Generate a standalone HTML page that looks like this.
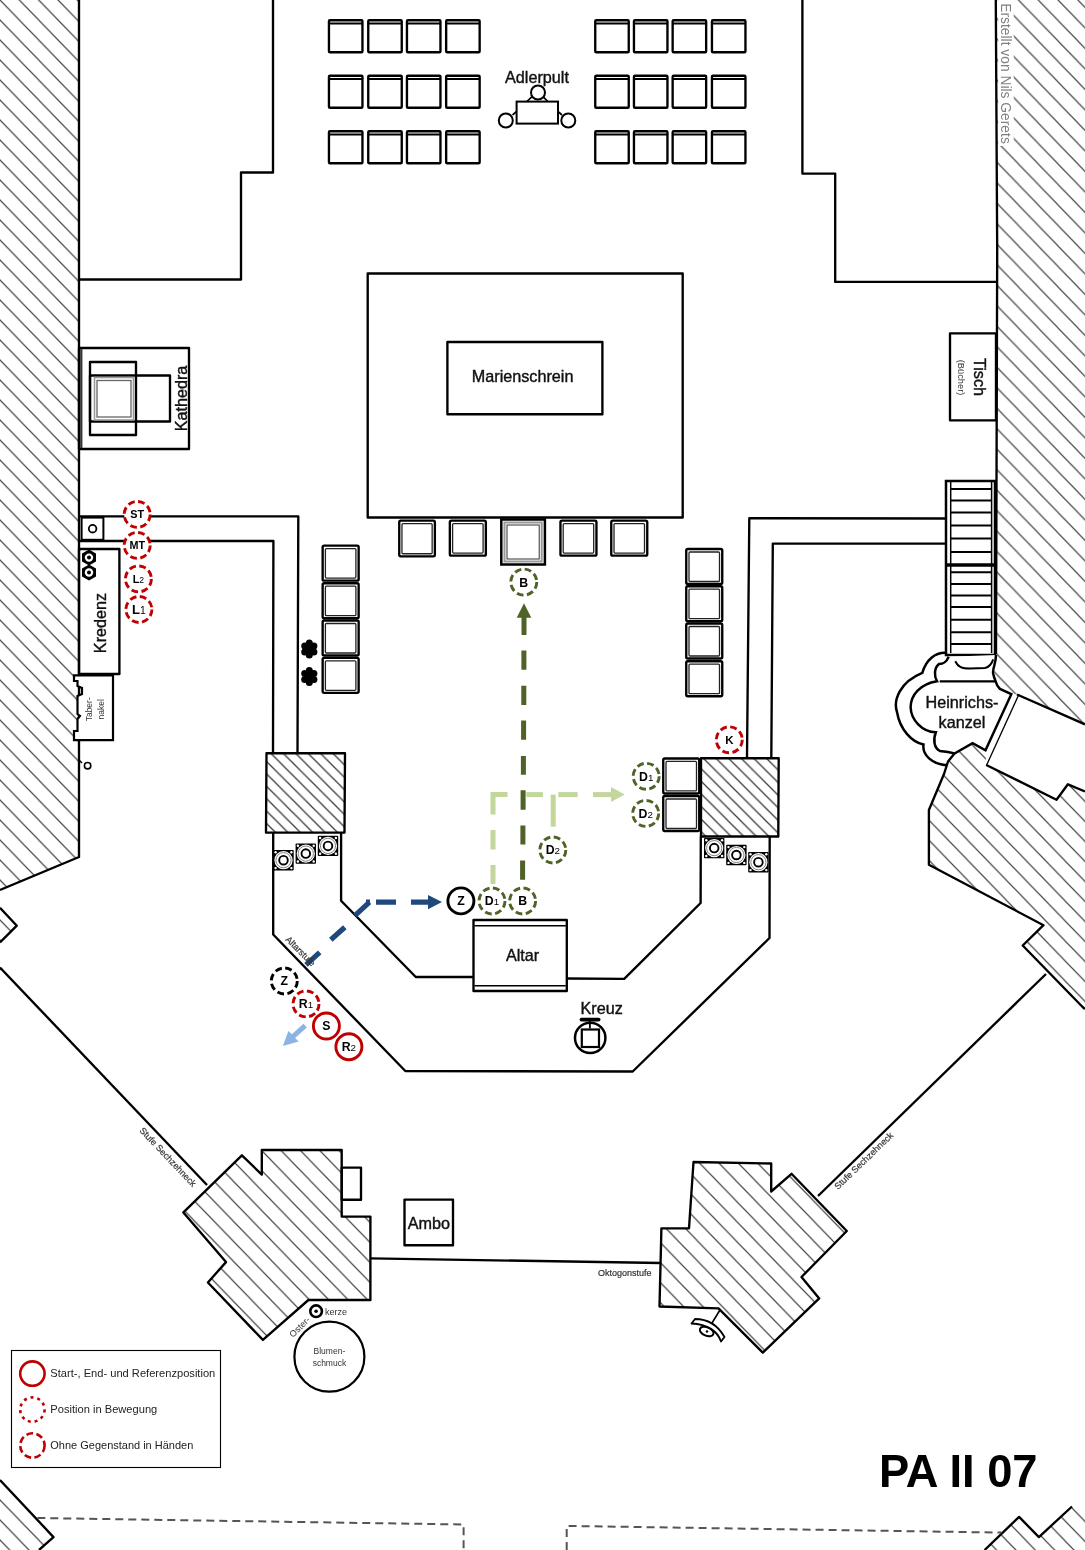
<!DOCTYPE html>
<html><head><meta charset="utf-8"><style>
html,body{margin:0;padding:0;background:#fff;width:1085px;height:1550px;overflow:hidden}
svg{display:block;font-family:"Liberation Sans",sans-serif;will-change:transform}
.w{fill:none;stroke:#000;stroke-width:2.35;stroke-linejoin:round}
.t{fill:none;stroke:#000;stroke-width:1.2}
.h{fill:url(#hatch);stroke:none}
</style></head><body>
<svg width="1085" height="1550" viewBox="0 0 1085 1550">
<defs>
<pattern id="hatch" patternUnits="userSpaceOnUse" width="19.35" height="20">
<path d="M-1.935,-2 L21.285,22 M-1.935,18 L1.935,22 M17.415,-2 L21.285,2" stroke="#4e4e4e" stroke-width="1.25"/>
</pattern>
<pattern id="hatchR" patternUnits="userSpaceOnUse" x="8.7" width="19.8" height="20.5">
<path d="M-1.98,-2.05 L21.78,22.55 M-1.98,18.45 L1.98,22.55 M17.82,-2.05 L21.78,2.05" stroke="#4e4e4e" stroke-width="1.25"/>
</pattern>
<pattern id="hatchS1" patternUnits="userSpaceOnUse" x="1.1" width="12.4" height="12.4">
<path d="M-2,-2 L14.4,14.4 M-2,10.4 L2,14.4 M10.4,-2 L14.4,2" stroke="#3a3a3a" stroke-width="1.3"/>
</pattern>
<pattern id="hatchS2" patternUnits="userSpaceOnUse" x="8.1" width="12.6" height="12.6">
<path d="M-2,-2 L14.6,14.6 M-2,10.6 L2,14.6 M10.6,-2 L14.6,2" stroke="#3a3a3a" stroke-width="1.3"/>
</pattern>
<g id="chT">
<rect x="1.25" y="1.25" width="33.5" height="32" class="w" rx="1"/>
<line x1="1.25" y1="4.5" x2="34.75" y2="4.5" stroke="#000" stroke-width="2.2"/>
</g>
<g id="chC">
<rect x="1.25" y="1.25" width="36" height="35" class="w" rx="1.5"/>
<rect x="4" y="4.2" width="30.5" height="29.5" fill="none" stroke="#222" stroke-width="1.3" rx="1"/>
</g>
<g id="spk">
<rect x="-10.2" y="-10.2" width="20.4" height="20.4" fill="#000" rx="0.8"/>
<circle r="9.1" fill="#fff"/>
<circle r="7.6" fill="none" stroke="#777" stroke-width="0.9"/>
<circle r="4.3" fill="none" stroke="#000" stroke-width="1.9"/>
<circle cx="-7.9" cy="-7.9" r="1.2" fill="#fff"/><circle cx="7.9" cy="-7.9" r="1.2" fill="#fff"/><circle cx="-7.9" cy="7.9" r="1.2" fill="#fff"/><circle cx="7.9" cy="7.9" r="1.2" fill="#fff"/>
</g>
</defs>

<!-- LEFT WALL -->
<polygon class="h" points="0,0 79,0 79,857 0,890"/>
<polyline class="w" points="79,0 79,857 0,890"/>
<polygon class="h" points="0,907.7 16.8,925.7 0,942.5"/>
<polyline class="w" points="0,907.7 16.8,925.7 0,942.5"/>

<!-- RIGHT WALL -->
<polygon fill="url(#hatchR)" points="996,0 1085,0 1085,724 1017,694.5 1010,693 1001,687.5 994,673 996,654"/>
<polyline class="w" points="995.8,0 997.2,250 996.5,481 996,654"/>
<line class="w" x1="1017" y1="694.5" x2="1085" y2="724.4"/>

<!-- TOP STRUCTURE LINES -->
<polyline class="w" points="273,0 273,172.5 241,172.5 241,279.5 79,279.5"/>
<polyline class="w" points="802.4,0 802.4,173.6 835.2,173.6 835.2,281.9 996,281.9"/>

<!-- TOP CHAIRS -->
<use href="#chT" x="327.7" y="19"/><use href="#chT" x="367" y="19"/><use href="#chT" x="405.7" y="19"/><use href="#chT" x="444.9" y="19"/>
<use href="#chT" x="594" y="19"/><use href="#chT" x="632.7" y="19"/><use href="#chT" x="671.4" y="19"/><use href="#chT" x="710.7" y="19"/>
<use href="#chT" x="327.7" y="74.5"/><use href="#chT" x="367" y="74.5"/><use href="#chT" x="405.7" y="74.5"/><use href="#chT" x="444.9" y="74.5"/>
<use href="#chT" x="594" y="74.5"/><use href="#chT" x="632.7" y="74.5"/><use href="#chT" x="671.4" y="74.5"/><use href="#chT" x="710.7" y="74.5"/>
<use href="#chT" x="327.7" y="130"/><use href="#chT" x="367" y="130"/><use href="#chT" x="405.7" y="130"/><use href="#chT" x="444.9" y="130"/>
<use href="#chT" x="594" y="130"/><use href="#chT" x="632.7" y="130"/><use href="#chT" x="671.4" y="130"/><use href="#chT" x="710.7" y="130"/>

<!-- ADLERPULT -->
<text x="537" y="83" font-size="16.2" text-anchor="middle" fill="#111" stroke="#111" stroke-width="0.4">Adlerpult</text>
<circle cx="538" cy="92.5" r="7" fill="#fff" stroke="#000" stroke-width="2"/>
<path d="M526.3,102 L531.8,96.8 M548.3,102 L543.2,96.8 M516.6,111.5 L512.5,115 M558,111.5 L562,115" stroke="#000" stroke-width="1.7"/>
<rect x="516.6" y="101.6" width="41.4" height="22" fill="#fff" stroke="#000" stroke-width="2"/>
<circle cx="505.8" cy="120.5" r="7" fill="#fff" stroke="#000" stroke-width="2"/>
<circle cx="568.3" cy="120.5" r="7" fill="#fff" stroke="#000" stroke-width="2"/>

<!-- MARIENSCHREIN -->
<rect x="367.7" y="273.5" width="315" height="244" class="w"/>
<rect x="447.4" y="342" width="155" height="72.2" class="w"/>
<text x="522.6" y="381.5" font-size="16.2" text-anchor="middle" fill="#111" stroke="#111" stroke-width="0.4">Marienschrein</text>

<!-- KATHEDRA -->
<rect x="79" y="348" width="110" height="101" class="w"/>
<line x1="81.3" y1="349" x2="81.3" y2="448" stroke="#333" stroke-width="2.2"/>
<rect x="90" y="362" width="46" height="73" class="w"/>
<rect x="90" y="375.5" width="80" height="46" class="w"/>
<rect x="94.5" y="377.5" width="39" height="42.5" fill="#fff" stroke="#999" stroke-width="1.6"/>
<rect x="97" y="380.5" width="34" height="36.5" fill="none" stroke="#666" stroke-width="1.3"/>
<text transform="translate(187,398.5) rotate(-90)" font-size="16.2" text-anchor="middle" fill="#111" stroke="#111" stroke-width="0.4">Kathedra</text>

<!-- TISCH -->
<rect x="950" y="333.3" width="46" height="87" class="w"/>
<text transform="translate(973.5,377) rotate(90)" font-size="16.2" text-anchor="middle" fill="#111" stroke="#111" stroke-width="0.4">Tisch</text>
<text transform="translate(958.2,377.5) rotate(90)" font-size="9.3" text-anchor="middle" fill="#333">(Bücher)</text>

<!-- INNER L LINES -->
<polyline class="w" points="79,516.3 298.3,516.3 297.5,753"/>
<polyline class="w" points="79,541 273.4,541 273,753"/>
<polyline class="w" points="946,518.5 749.3,518.2 747,757.5"/>
<polyline class="w" points="946,543.6 772.8,543.6 771.3,758"/>

<!-- STAIRS -->
<rect x="946" y="481" width="49" height="174" fill="#fff" stroke="#000" stroke-width="2.5"/>
<path d="M950.7,482 V653 M991.6,482 V653" stroke="#000" stroke-width="1.5"/>
<path d="M951,489 H991 M951,500.6 H991 M951,512.6 H991 M951,525.4 H991 M951,538.4 H991 M951,552 H991 M951,572.3 H991 M951,583.9 H991 M951,595.5 H991 M951,607 H991 M951,619.7 H991 M951,632.3 H991 M951,644 H991" stroke="#000" stroke-width="2"/>
<path d="M947,565 H994" stroke="#000" stroke-width="3.5"/>

<!-- CHAIR COLUMNS -->
<use href="#chC" x="321.4" y="544.4"/><use href="#chC" x="321.4" y="582"/><use href="#chC" x="321.4" y="619.3"/><use href="#chC" x="321.4" y="656.6"/>
<use href="#chC" x="685" y="547.8"/><use href="#chC" x="685" y="585"/><use href="#chC" x="685" y="622.3"/><use href="#chC" x="685" y="660"/>
<!-- bottom chair row under Marienschrein -->
<g transform="translate(398,519.4) scale(0.99,1)"><use href="#chC" transform="scale(1,1.02)"/></g>
<use href="#chC" x="448.6" y="519.4"/>
<use href="#chC" x="559.2" y="519.4"/>
<use href="#chC" x="610" y="519.4"/>
<rect x="501.3" y="519.5" width="43.6" height="45" fill="#fff" stroke="#000" stroke-width="2.5"/>
<rect x="504.5" y="522.5" width="37.2" height="39" fill="none" stroke="#999" stroke-width="2"/>
<rect x="507" y="525" width="32.2" height="34" fill="none" stroke="#333" stroke-width="1"/>
<!-- right 2 chairs next to block -->
<use href="#chC" x="662" y="757.2"/><use href="#chC" x="662" y="794.8"/>

<!-- FLOWERS -->
<g id="flw" transform="translate(309.3,648.9)">
<circle r="5.5"/><circle r="3.5" cx="0" cy="-6"/><circle r="3.5" cx="4.6" cy="-3"/><circle r="3.5" cx="4.6" cy="3"/><circle r="3.5" cx="0" cy="6"/><circle r="3.5" cx="-4.6" cy="3"/><circle r="3.5" cx="-4.6" cy="-3"/>
</g>
<use href="#flw" y="27.5"/>

<!-- LEFT WALL FURNITURE -->
<rect x="81.6" y="517.6" width="21.8" height="22.2" fill="#fff" stroke="#000" stroke-width="2"/>
<circle cx="92.6" cy="528.7" r="3.8" fill="none" stroke="#000" stroke-width="1.8"/>
<rect x="79" y="549" width="40.4" height="125" class="w"/>
<polygon points="89,549.6 96,553.6 96,561.6 89,565.6 82,561.6 82,553.6" fill="#000"/>
<circle cx="89" cy="557.6" r="4.2" fill="#fff"/><circle cx="89" cy="557.6" r="2" fill="#000"/>
<polygon points="89,564.5 96,568.5 96,576.5 89,580.5 82,576.5 82,568.5" fill="#000"/>
<circle cx="89" cy="572.5" r="4.2" fill="#fff"/><circle cx="89" cy="572.5" r="2" fill="#000"/>
<text transform="translate(106,623) rotate(-90)" font-size="16.2" text-anchor="middle" fill="#111" stroke="#111" stroke-width="0.4">Kredenz</text>
<path d="M74,675.4 H113 V740.2 H74 V731 H77.5 V719 L80,716 L77.5,714 V696 L82,694 V688 L77.5,686 V681 H74 Z" fill="#fff" stroke="#000" stroke-width="2.2"/>
<text transform="translate(89,709.3) rotate(-90)" font-size="8.5" text-anchor="middle" fill="#333"><tspan x="0" y="3">Taber-</tspan><tspan x="0" y="15">nakel</tspan></text>
<circle cx="87.6" cy="765.7" r="3.2" fill="#fff" stroke="#000" stroke-width="1.6"/>
<path d="M79,760 L82,763" stroke="#000" stroke-width="1.4"/>

<!-- HATCHED BLOCKS -->
<polygon fill="url(#hatchS1)" points="266.5,753.2 345,753.2 344.5,832.6 266,832.6"/>
<polygon class="w" points="266.5,753.2 345,753.2 344.5,832.6 266,832.6"/>
<polygon fill="url(#hatchS2)" points="701,758.2 778.7,758.2 778.3,836.5 701,836.5"/>
<polygon class="w" points="701,758.2 778.7,758.2 778.3,836.5 701,836.5"/>

<!-- OCTAGON LINES -->
<polyline class="w" points="273.2,832.6 273.2,934.5 405.3,1071 632.7,1071.5 769.5,938 769.7,836.5"/>
<polyline class="w" points="341.1,832.6 341.1,900.8 415.8,977 473.5,977"/>
<polyline class="w" points="566.8,978.5 624.2,978.8 700.6,903 700.8,836.5"/>

<!-- SPEAKERS -->
<use href="#spk" x="283.5" y="860.2"/><use href="#spk" x="305.8" y="853.6"/><use href="#spk" x="328" y="845.9"/>
<use href="#spk" x="714.2" y="848.1"/><use href="#spk" x="736.4" y="855"/><use href="#spk" x="758.4" y="862.2"/>

<!-- ALTAR -->
<rect x="473.5" y="920" width="93.3" height="71" class="w" fill="#fff"/>
<path d="M474.5,925.8 H565.8 M474.5,985.8 H565.8" stroke="#000" stroke-width="1.6"/>
<text x="522.6" y="961" font-size="16.2" text-anchor="middle" fill="#111" stroke="#111" stroke-width="0.4">Altar</text>

<!-- KREUZ -->
<text x="601.6" y="1014.4" font-size="16.2" text-anchor="middle" fill="#111" stroke="#111" stroke-width="0.4">Kreuz</text>
<path d="M581.5,1019.6 H598.6" stroke="#000" stroke-width="3.8" stroke-linecap="round"/>
<path d="M589.9,1020 V1028.5" stroke="#000" stroke-width="1.8"/>
<circle cx="590.2" cy="1037.9" r="15.2" fill="none" stroke="#000" stroke-width="2.5"/>
<rect x="581.8" y="1029.5" width="17.2" height="17.5" fill="none" stroke="#000" stroke-width="2.2"/>

<!-- RIGHT BIG PILLAR (east) -->
<polygon class="h" points="948,761.5 954.5,753.5 972.6,743.2 985.5,750.3 986.3,765 1056.5,799.7 1067.9,784.3 1085,791.5 1085,1009 1082.6,1007 1022.7,945.5 1043.5,925.2 928.9,864.8 928.9,810 944,774"/>
<polyline class="w" points="1085,1009 1082.6,1007 1022.7,945.5 1043.5,925.2 928.9,864.8 928.9,810 944,774 948,761.5 954.5,753.5"/>
<polyline class="w" points="986.3,765 1056.5,799.7 1067.9,784.3 1085,791.5"/>
<!-- room box -->
<line x1="1019" y1="694.2" x2="986.3" y2="765.8" stroke="#000" stroke-width="1.3"/>
<!-- KANZEL -->
<path d="M946.8,652.9 C935,652 926,660 922.3,672.9 C900,682 893,700 897,712 C900,730 912,742 923.5,744.5 C922,755 932,764 946.8,765.2" fill="none" stroke="#000" stroke-width="2.5"/>
<path d="M948.7,656.8 C946,663 943,664 939,664 C934,668 934,676 937,681.3 C920,684 911,695 910.6,707 C911,720 922,732 935.8,732.3 C933,740 934,748 940,751 L948,752 L954.5,753.5 L972.6,743.2 L985.5,750.3 L1011.3,694.2 L1000,689 C997,686 996,683 995.5,681 C994,676 992,674 993.2,670 C994,666 996,661 996,655" fill="#fff" stroke="#000" stroke-width="2.5"/>
<line x1="939.7" y1="681.3" x2="995.8" y2="681.3" stroke="#000" stroke-width="2.2"/>
<path d="M955.2,661.3 C958,667 962,668.5 970,668.5 L985,668 C990,667 992,663 993.2,659.4" fill="none" stroke="#000" stroke-width="2"/>
<text x="962" y="708" font-size="16.2" text-anchor="middle" fill="#111" stroke="#111" stroke-width="0.4">Heinrichs-</text>
<text x="962" y="727.5" font-size="16.2" text-anchor="middle" fill="#111" stroke="#111" stroke-width="0.4">kanzel</text>

<!-- STUFE SECHZEHNECK LINES -->
<line class="w" x1="0" y1="967.5" x2="207" y2="1185"/>
<line class="w" x1="818" y1="1196" x2="1046" y2="974"/>
<!-- right octagon box lower-right -->
<text transform="translate(139,1131) rotate(46.5)" font-size="9" fill="#333" stroke="#333" stroke-width="0.2">Stufe Sechzehneck</text>
<text transform="translate(838,1190) rotate(-44)" font-size="9" fill="#333" stroke="#333" stroke-width="0.2">Stufe Sechzehneck</text>

<!-- BOTTOM LEFT PILLAR -->
<polygon class="h" points="183.4,1212.4 241.9,1155.3 261.8,1174.6 261.8,1150 341.7,1150 341.7,1216.6 370.4,1216.6 370.4,1300 308.4,1300 262.9,1339.9 207.9,1282.5 226,1262.1"/>
<polygon class="w" points="183.4,1212.4 241.9,1155.3 261.8,1174.6 261.8,1150 341.7,1150 341.7,1216.6 370.4,1216.6 370.4,1300 308.4,1300 262.9,1339.9 207.9,1282.5 226,1262.1"/>
<rect x="341.7" y="1167.6" width="19.3" height="32.2" class="w"/>

<!-- BOTTOM RIGHT PILLAR -->
<polygon class="h" points="693.5,1162 771.2,1163.5 771.2,1191.5 791.5,1173.8 846.8,1231 801.5,1277 819.2,1298.4 762.8,1352.6 718.5,1308.4 659.5,1306.5 661.4,1228.4 689,1228.4"/>
<polygon class="w" points="693.5,1162 771.2,1163.5 771.2,1191.5 791.5,1173.8 846.8,1231 801.5,1277 819.2,1298.4 762.8,1352.6 718.5,1308.4 659.5,1306.5 661.4,1228.4 689,1228.4"/>

<!-- OKTOGONSTUFE -->
<line class="w" x1="370.4" y1="1258.3" x2="660.5" y2="1263"/>
<text x="624.8" y="1275.5" font-size="9" text-anchor="middle" fill="#333" stroke="#333" stroke-width="0.2">Oktogonstufe</text>

<!-- AMBO -->
<rect x="404.5" y="1199.6" width="48.5" height="45.6" class="w"/>
<text x="428.8" y="1229" font-size="16.2" text-anchor="middle" fill="#111" stroke="#111" stroke-width="0.4">Ambo</text>

<!-- OSTERKERZE / BLUMEN -->
<circle cx="316.1" cy="1311.2" r="5.8" fill="none" stroke="#000" stroke-width="2.6"/>
<circle cx="316.1" cy="1311.2" r="1.8" fill="#000"/>
<text x="325" y="1314.5" font-size="9" fill="#333">kerze</text>
<text transform="translate(293,1338) rotate(-45)" font-size="9" fill="#333">Oster-</text>
<circle cx="329.4" cy="1356.7" r="35" fill="none" stroke="#000" stroke-width="2.2"/>
<text x="329.4" y="1354" font-size="8.5" text-anchor="middle" fill="#333">Blumen-</text>
<text x="329.4" y="1366" font-size="8.5" text-anchor="middle" fill="#333">schmuck</text>

<!-- EYE -->
<path d="M720,1310 L711.7,1323.5" stroke="#000" stroke-width="1.6"/>
<path d="M691.5,1323.5 L695,1319 C703,1319 716,1322 724.5,1337 L721,1341.5 C718,1332 708,1324 691.5,1323.5 Z" fill="none" stroke="#000" stroke-width="1.8" stroke-linejoin="round"/>
<ellipse cx="706.7" cy="1331.5" rx="7.2" ry="4.2" transform="rotate(22 706.7 1331.5)" fill="none" stroke="#000" stroke-width="2"/>
<circle cx="707" cy="1331.5" r="1.2" fill="#000"/>

<!-- ARROWS -->
<g fill="#c3d69b">
<path d="M488.2,792.1 H507.5 V797.1 H495.5 V814.6 H490.5 V792.1 Z"/>
<rect x="526.3" y="792.1" width="16.6" height="5"/>
<rect x="558.3" y="792.1" width="19.3" height="5"/>
<rect x="593" y="792.1" width="18.4" height="5"/>
<polygon points="611,787.1 624.7,794.6 611,802.1"/>
<rect x="490.5" y="830" width="5" height="19.5"/>
<rect x="490.5" y="865" width="5" height="19"/>
<rect x="550.7" y="794.6" width="5" height="32.1"/>
</g>
<g fill="#4f6228">
<polygon points="524,603.3 531.3,617.7 516.7,617.7"/>
<rect x="521.5" y="617" width="5" height="18"/>
<path d="M521.4,650.4 h5 v19.3 h-5z M521.3,685.8 h5 v19.2 h-5z M521.1,720.5 h5 v19.3 h-5z M520.9,756 h5 v18.7 h-5z M520.6,790.2 h5 v19.5 h-5z M520.4,825.6 h5 v18.8 h-5z M520.1,860.6 h5 v19.2 h-5z"/>
</g>
<g stroke="#1f497d" stroke-width="5.2" fill="none">
<path d="M306,964.8 L319.7,952.3 M330.8,939.7 L344.8,927.2 M355.1,915.4 L369.5,902.1"/>
<path d="M366,902.1 H370 M376,902.1 H396 M411,902.1 H429"/>
</g>
<polygon points="428,895 442,902.1 428,909.2" fill="#1f497d"/>
<polygon points="303.4,1023.8 306.9,1027.4 295.1,1038.1 298.6,1041.6 282.9,1045.9 288.4,1031 291.9,1034.2" fill="#8db3e2"/>

<!-- CIRCLES -->
<circle cx="137.2" cy="514.4" r="13" fill="#fff" stroke="#c00000" stroke-width="2.9" stroke-dasharray="6.8 3.5"/><text x="137.2" y="518.29" font-size="10.8" font-weight="bold" text-anchor="middle" fill="#000">ST</text>
<circle cx="137.2" cy="545.4" r="13" fill="#fff" stroke="#c00000" stroke-width="2.9" stroke-dasharray="6.8 3.5"/><text x="137.2" y="549.29" font-size="10.8" font-weight="bold" text-anchor="middle" fill="#000">MT</text>
<circle cx="138.4" cy="578.9" r="13" fill="#fff" stroke="#c00000" stroke-width="2.9" stroke-dasharray="6.8 3.5"/><text x="138.4" y="582.79" font-size="10.8" font-weight="bold" text-anchor="middle" fill="#000">L<tspan font-size="8.6" font-weight="normal">2</tspan></text>
<circle cx="138.9" cy="609.5" r="13" fill="#fff" stroke="#c00000" stroke-width="2.9" stroke-dasharray="6.8 3.5"/><text x="138.9" y="614.18" font-size="13" font-weight="bold" text-anchor="middle" fill="#000">L<tspan font-size="10.4" font-weight="normal">1</tspan></text>
<circle cx="729.3" cy="739.8" r="13" fill="#fff" stroke="#c00000" stroke-width="2.9" stroke-dasharray="6.8 3.5"/><text x="729.3" y="743.94" font-size="11.5" font-weight="bold" text-anchor="middle" fill="#000">K</text>
<circle cx="306" cy="1003.9" r="13" fill="#fff" stroke="#c00000" stroke-width="2.9" stroke-dasharray="6.8 3.5"/><text x="306" y="1008.33" font-size="12.3" font-weight="bold" text-anchor="middle" fill="#000">R<tspan font-size="9.8" font-weight="normal">1</tspan></text>
<circle cx="326.4" cy="1026" r="13" fill="#fff" stroke="#c00000" stroke-width="2.9"/><text x="326.4" y="1030.43" font-size="12.3" font-weight="bold" text-anchor="middle" fill="#000">S</text>
<circle cx="348.9" cy="1046.7" r="13" fill="#fff" stroke="#c00000" stroke-width="2.9"/><text x="348.9" y="1051.13" font-size="12.3" font-weight="bold" text-anchor="middle" fill="#000">R<tspan font-size="9.8" font-weight="normal">2</tspan></text>
<circle cx="460.9" cy="900.9" r="13" fill="#fff" stroke="#000" stroke-width="2.9"/><text x="460.9" y="905.33" font-size="12.3" font-weight="bold" text-anchor="middle" fill="#000">Z</text>
<circle cx="284.3" cy="981" r="13" fill="#fff" stroke="#000" stroke-width="2.9" stroke-dasharray="6.8 3.5"/><text x="284.3" y="985.43" font-size="12.3" font-weight="bold" text-anchor="middle" fill="#000">Z</text>
<circle cx="523.8" cy="582.1" r="13" fill="#fff" stroke="#4f6228" stroke-width="2.9" stroke-dasharray="6.8 3.5"/><text x="523.8" y="586.53" font-size="12.3" font-weight="bold" text-anchor="middle" fill="#000">B</text>
<circle cx="492" cy="901" r="13" fill="#fff" stroke="#4f6228" stroke-width="2.9" stroke-dasharray="6.8 3.5"/><text x="492" y="905.43" font-size="12.3" font-weight="bold" text-anchor="middle" fill="#000">D<tspan font-size="9.8" font-weight="normal">1</tspan></text>
<circle cx="522.6" cy="901" r="13" fill="#fff" stroke="#4f6228" stroke-width="2.9" stroke-dasharray="6.8 3.5"/><text x="522.6" y="905.43" font-size="12.3" font-weight="bold" text-anchor="middle" fill="#000">B</text>
<circle cx="552.8" cy="850" r="13" fill="#fff" stroke="#4f6228" stroke-width="2.9" stroke-dasharray="6.8 3.5"/><text x="552.8" y="854.43" font-size="12.3" font-weight="bold" text-anchor="middle" fill="#000">D<tspan font-size="9.8" font-weight="normal">2</tspan></text>
<circle cx="646.2" cy="776.3" r="13" fill="#fff" stroke="#4f6228" stroke-width="2.9" stroke-dasharray="6.8 3.5"/><text x="646.2" y="780.73" font-size="12.3" font-weight="bold" text-anchor="middle" fill="#000">D<tspan font-size="9.8" font-weight="normal">1</tspan></text>
<circle cx="645.7" cy="813.4" r="13" fill="#fff" stroke="#4f6228" stroke-width="2.9" stroke-dasharray="6.8 3.5"/><text x="645.7" y="817.83" font-size="12.3" font-weight="bold" text-anchor="middle" fill="#000">D<tspan font-size="9.8" font-weight="normal">2</tspan></text>

<!-- ALTARSTUFE TEXT -->
<text transform="translate(285,940) rotate(45)" font-size="9" fill="#333" stroke="#333" stroke-width="0.2">Altarstufe</text>

<!-- LEGEND -->
<rect x="11.5" y="1350.5" width="209" height="117" fill="#fff" stroke="#000" stroke-width="1.1"/>
<circle cx="32.4" cy="1373.6" r="12.2" fill="none" stroke="#c00000" stroke-width="2.6"/>
<circle cx="32.4" cy="1409.6" r="12.2" fill="none" stroke="#c00000" stroke-width="2.6" stroke-dasharray="3 3.9"/>
<circle cx="32.4" cy="1445.5" r="12.2" fill="none" stroke="#c00000" stroke-width="2.6" stroke-dasharray="6.8 3.4"/>
<g font-size="10.5" fill="#222">
<text x="50.3" y="1377.2" textLength="165" lengthAdjust="spacingAndGlyphs">Start-, End- und Referenzposition</text>
<text x="50.3" y="1413.2" textLength="107" lengthAdjust="spacingAndGlyphs">Position in Bewegung</text>
<text x="50.3" y="1449.1" textLength="143" lengthAdjust="spacingAndGlyphs">Ohne Gegenstand in Händen</text>
</g>

<!-- BOTTOM -->
<polygon class="h" points="0,1480 53.5,1537.1 39,1550 0,1550"/>
<polyline class="w" points="0,1480 53.5,1537.1 39,1550"/>
<polygon class="h" points="984.6,1550 1019.1,1516.9 1038.9,1537.1 1071.3,1507.2 1085,1507.2 1085,1550"/>
<polyline class="w" points="984.6,1550 1019.1,1516.9 1038.9,1537.1 1072,1506.5"/>
<g stroke="#555" stroke-width="2" fill="none" stroke-dasharray="8 5">
<polyline points="37.3,1518 463.6,1524.5 463.6,1550"/>
<polyline points="566.7,1550 566.7,1525.9 1001.4,1532.6"/>
</g>
<text x="879" y="1487.3" font-size="46" font-weight="bold" fill="#000" textLength="158.5" lengthAdjust="spacingAndGlyphs">PA II 07</text>

<!-- CREDIT -->
<rect x="998.2" y="0" width="15.5" height="146" fill="#fff"/>
<text transform="translate(1001.2,3.3) rotate(90)" font-size="14.3" fill="#808080" textLength="140.5" lengthAdjust="spacingAndGlyphs">Erstellt von Nils Gerets</text>

</svg>
</body></html>
